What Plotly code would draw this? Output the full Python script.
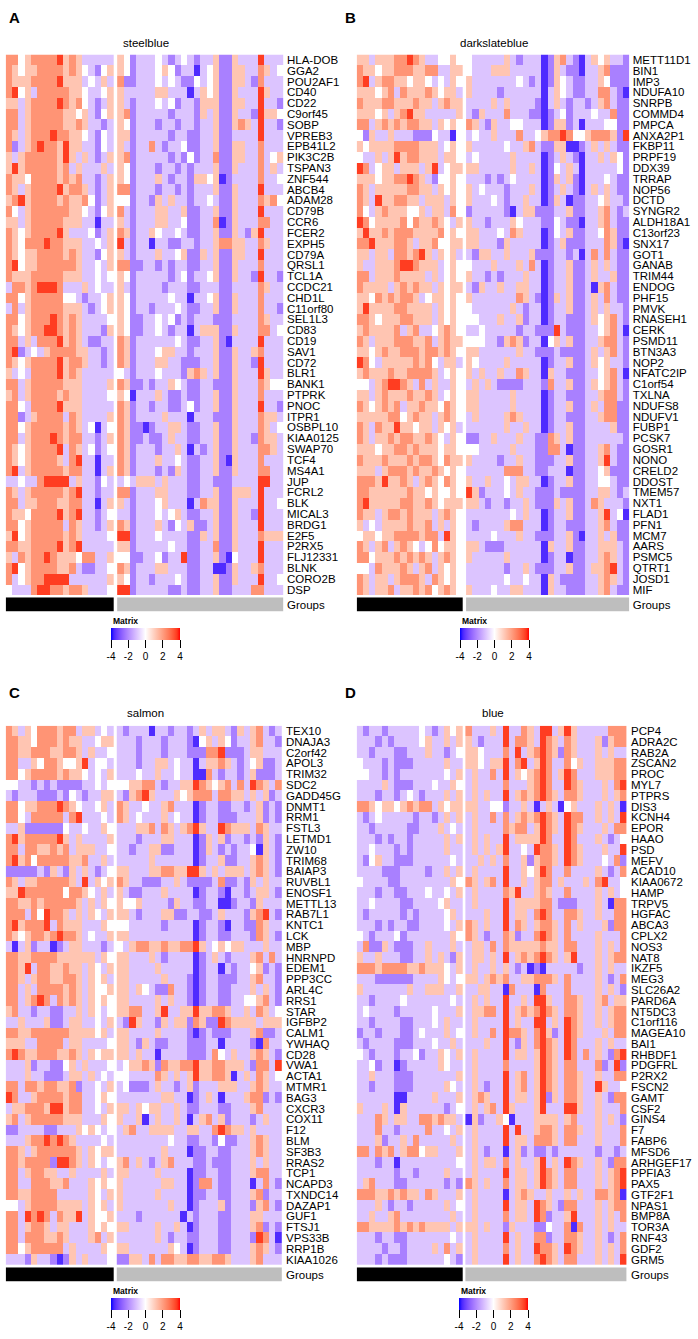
import plotly.graph_objects as go

# ---------------- data ----------------
# cell codes: B strong blue, b blue, l light blue, w white, p light red, r red, R strong red
LEVELS = {"B": -3.6, "b": -2.2, "l": -1.0, "w": 0.0, "p": 1.2, "r": 2.2, "R": 3.6}
N_GROUP1 = 17
N_GROUP2 = 26
COLORBAR_TICKS = [-4, -2, 0, 2, 4]
PANEL_LETTERS = ["A", "B", "C", "D"]
PANEL_TITLES = ["steelblue", "darkslateblue", "salmon", "blue"]

steelblue_genes = ["HLA-DOB", "GGA2", "POU2AF1", "CD40", "CD22", "C9orf45", "SOBP", "VPREB3", "EPB41L2", "PIK3C2B",
                   "TSPAN3", "ZNF544", "ABCB4", "ADAM28", "CD79B", "CCR6", "FCER2", "EXPH5", "CD79A", "QRSL1",
                   "TCL1A", "CCDC21", "CHD1L", "C11orf80", "SEL1L3", "CD83", "CD19", "SAV1", "CD72", "BLR1",
                   "BANK1", "PTPRK", "PNOC", "ITPR1", "OSBPL10", "KIAA0125", "SWAP70", "TCF4", "MS4A1", "JUP",
                   "FCRL2", "BLK", "MICAL3", "BRDG1", "E2F5", "P2RX5", "FLJ12331", "BLNK", "CORO2B", "DSP"]
steelblue_rows = [
    ("rrwpr rrrRp rplll ll", "pwbll lwlbl wlbll pbbpl llRll l"),
    ("rpwpp rrrrp rpwlb wp", "pwbll lwpwb llBlw pbbpp llrpl w"),
    ("rpppr rrrRp pplwl pl", "rbbll lwlwl bbwlw pbbpp lbrll l"),
    ("rRwpl rrrrr ppwll wp", "pllll lppll lBlpw pbbpl llRpl l"),
    ("pplpr rrrRr prwlb lp", "plbll lwlwb llbpp pbbpp llRll b"),
    ("rrlpr rrrrp pwplb wp", "prbll lllbl llbpl pbbpl lbRpp w"),
    ("rrlpr rrrrp prpll bl", "pwbll lbllb llbll pbbpr plRll b"),
    ("rplpr rrRrr ppwlb wl", "ppbll lllbl lbbll pbbll llRll l"),
    ("rblpr RrrpR ppllb wl", "plbll rlbll wbbll pbbpp llrll l"),
    ("plprr rrrpR plplb lp", "prbll lllbl bwbll rbbpp llrlw p"),
    ("pRprr rrrpr lplll pl", "pwbll lbllb lblll pbbpl llrlp l"),
    ("rppwr rrrpr prllb lp", "pwbll lplbl lbppw pBbll llrll w"),
    ("rplpr rrrRp rrplb lp", "rrbll lbllb lblll pbbpl llRll l"),
    ("prRpr rrrpr pprwb lp", "wwbll bplpl lbllw lbbpl llrpr w"),
    ("rwlpr rrrrr ppwlb wp", "rlbll lppll pbbll pbbpl llRll l"),
    ("pplpr rrrrp ppllB ll", "plbll lppll wbbll rBbpl llrrl l"),
    ("rpwpr rrrRp lllwb lp", "rpbll pwllw lbbll pbbpl bpRll l"),
    ("rpwrr rRrrp ppllw lp", "Rlbll Bllbb llbll prrpp llrpl l"),
    ("rpwpp rrrrp rpllb wp", "plbll lpllw pbbpl pbbpp llRll l"),
    ("rRwpp rrrrr rpllw lp", "rrbbl lblbl lbbll pbbpl llrll l"),
    ("rpppr rrrrp ppllw lw", "pwbll lllbl wbllw pbbpl lbRll b"),
    ("lrrpr RRRrl llplw ll", "plbll llbll lbbll lbbll llrpl l"),
    ("rrwpr rrrrw wlbll wp", "pwbll lllwl lBllw pbbpl llrll l"),
    ("lrlpr rrrrp pplbl wp", "pwbll blllw lbbll pbbpl llrll b"),
    ("rrwpr rrRrp rplll lw", "pwbbl lwlwb lblll bbbll llrpl l"),
    ("rpwpr rRRrp rplll bp", "pwbbl lwlbl lBlpp pbbpl llrrl w"),
    ("rrlpl rrrRp rplbb ll", "rpbll llllw lbbll pbBll llRll l"),
    ("rRblw lprrr rppll bl", "rpbll lwppl lblll pbbpl lprll l"),
    ("rpwpr rrrRp rrpll bl", "rpbll lppll bbbll pbbpl lbRll l"),
    ("plwlr rrrRp rplll ll", "wlbll lwlll bprpl pbbpl llRpl l"),
    ("rrlpr rrrrp pplll lp", "rpbbl bllpw lbbll bbbpl llrpw w"),
    ("prlpr rrrpr pplll lw", "pwBll lplbb lbbll pbbpl llrll l"),
    ("rrwlr rrrRp pplll ll", "rpbll bllbb lwbll pbbpl llRll b"),
    ("rrblp rrrrl rplll lp", "rpbll llpll lBlll bbbpl llrpp l"),
    ("rrwpr rrrrp rplwB lw", "rpbbB bllpp lbbll pbbpl llrpl w"),
    ("rrlpr rrRrp rrllb lp", "rpbbl bblpl lbbll pbbpl lbrpp l"),
    ("rpwpr rrrRl rplwb lw", "rpbll lbllp lBlbl pbbpl llrrp l"),
    ("rpwpr rrrpl rRllB ll", "rpbll lpllw lbbll pbBpl llrll l"),
    ("rRlpr rrrrp rrllB lp", "rpbll lblbp lbbll pbbpl llrrl l"),
    ("llwll rRRRR lpllb wl", "lwlpp plpll lbbll bbbll llRRl l"),
    ("rplpr rrrrp rRllb ll", "rrbll lppll lbbll pbbpp plRll l"),
    ("rrlpp rrrpp rrllB lp", "plbll lwpll lBlrp pbbpl llRll w"),
    ("rppwr rrrRp rRllb lw", "llbll lwlwp lbbll pbbpl lbRll l"),
    ("rrwpr rrrrl rpllb lp", "rpbll lplbw lpbbl pbbpl llRll l"),
    ("pRwpr rrrrp rplll lw", "RRbll lwlll lbbpl pbbpl llrpp p"),
    ("rrppr rrrRp rRlll ll", "ppbll lllwl lbbll rbbpl llRll l"),
    ("plrpr rRrpp pwrrl lp", "wwbbl lwbll Rbbll pbBwl llRll l"),
    ("rRwpr rrrpp rlbbl lw", "rpbll lppll lbbll BBbpl lprll l"),
    ("rlwpr rRRRR lllll lp", "pwbll blllw lbbll pbbpl llRll w"),
    ("wlllr RRrrp rrpll lw", "RRbll lllbb lbbll pbbll lrrll l"),
]

darkslateblue_genes = ["METT11D1", "BIN1", "IMP3", "NDUFA10", "SNRPB", "COMMD4", "PMPCA", "ANXA2P1", "FKBP11", "PRPF19",
                       "DDX39", "TRRAP", "NOP56", "DCTD", "SYNGR2", "ALDH18A1", "C13orf23", "SNX17", "GOT1", "GANAB",
                       "TRIM44", "ENDOG", "PHF15", "PMVK", "RNASEH1", "CERK", "PSMD11", "BTN3A3", "NOP2", "NFATC2IP",
                       "C1orf54", "TXLNA", "NDUFS8", "NDUFV1", "FUBP1", "PCSK7", "GOSR1", "NONO", "CRELD2", "DDOST",
                       "TMEM57", "NXT1", "FLAD1", "PFN1", "MCM7", "AARS", "PSMC5", "QTRT1", "JOSD1", "MIF"]
darkslateblue_rows = [
    ("pplpp prrRr pllww pw", "wllll lplbl llBbp rlbBl pwpll b"),
    ("rppwp prrrp prrll pp", "wlllp pplll llBbp lbbBl lprbb b"),
    ("rRlpr rppwp pwlwl pw", "pllll lllwl blBbp wlbbl lpwbb b"),
    ("pppwp rlrpp prpwp pl", "pllll bllll llBlp wlbbl lrrlb B"),
    ("rpppr rpppr pplpr pp", "llllp lplll lbBlp lbllb lprlb b"),
    ("pppwp lprRp pllll lp", "lbpll lrlll bbBbl wblll wllrb b"),
    ("rrlpr prprr pplpw pw", "rplbp llwwl llBbp pblBl llwwb b"),
    ("wbpll plllb bbwll Bw", "lwllp lllrl lwprr Rrwwp rrrpb R"),
    ("pwppp prrrr ppplw pw", "pllll lwllp rlbbp pBBbl plplb b"),
    ("wllpl pRprr ppplp pw", "lwlll llpll llBbl plbBl lplpw b"),
    ("Rrlwp plppp lpRlw pp", "pplll llpll plBbw lplBl llllw b"),
    ("pppwp prrRr plbww pw", "lllbl blwll llBbp lpbBl llwlb b"),
    ("rplpp ppprr pplpw pw", "plwll lblll plBbl plbBl plplb b"),
    ("rplRp prrpp lpppl pw", "plllw lbllp llBbp lBbbl lwpll b"),
    ("rwlpr pppww plppl rw", "bllll lbBlp pbbbl lpbbl lprlb l"),
    ("Rrwpp pprwr pprpw lp", "pllbl llpwl llbbw lbbBl lprlb b"),
    ("pRppr prrrp ppprw pw", "pplll wlrpl llBbw lpbbl lwrpb b"),
    ("rrRpp prrpl pprww pp", "pplll bplll llBbl pbbbl llrpb B"),
    ("pplpp lrrpr Rplpw pl", "lbppl lplll pbbbl lblBl rlrlb b"),
    ("pllpp prRRr ppplw pw", "wlllp lllpl rlBbl lpbbl plplb b"),
    ("rrlpp prppp plplw pw", "pllbl blllp llBbl lpbbl pllpb b"),
    ("rpppp lprpr pplpw pp", "lbpll pllpp llBbl lpbbl Bprlb b"),
    ("ppwrp rprrp lwppw pw", "pllll lllrp lbBbp lpbbl plrlb b"),
    ("pRppp prrpp pplpw pw", "wllll llplb llBbl lpbbl plpll b"),
    ("rrpwp pprrp pplpw pw", "wwlll pllpb llBbl lbbbl pwprl b"),
    ("prppp prlpr llwpr pw", "llwll lllbl lbbbR lbbbl lwprl B"),
    ("rplpp prrrp prlpr pp", "wwwll bprpb llBwp lpbbl lprrl b"),
    ("ppwpr pprrr prrpr pw", "pplll lllpl lbbbl bbbbl plprl b"),
    ("Rrwlp ppppr prwlp pl", "pwlll lplll llBbl lpbbl pwpll b"),
    ("prppp rpprr rrplw pw", "plpll pllrp llBpl lbbbl lwprl B"),
    ("wwlpr RRrpl rlpll pw", "lplpl bbbbl llbrl lpbbl pwprl b"),
    ("pplpr ppprp prplw pw", "pplll llpll llBbl lbbbl lprrl b"),
    ("rpwpr prlpp rppwr pw", "pplll llpll llBbl lpbbl plrrb b"),
    ("ppppp rrwpr pplpr pw", "lplll lprpl llBbl lbbbl lprrb b"),
    ("rplrp pRppw pplpw pl", "lllll lpllp llBbl lpbbl lllpb b"),
    ("rplpp rprrp prpwl pw", "bbllp lllpl lbbrp lpbbl lllll b"),
    ("pppwp prrpr pppwp pw", "wwlll llpll lbbrr lBbbl lprlb b"),
    ("rpppr ppprp rrpwr pp", "pllll bllpl lbbbl lpbbl lpRlb b"),
    ("ppplp rrrpr pprpw pw", "lllll lrrrl lbbll lBbbl lwpbb b"),
    ("rrrpR pprpl prpwr pw", "pllpl lwlpp llBbl lpbbl lwwlb b"),
    ("rrppp ppprp pwpww pw", "Rpbll lwlpl lbbbl bbbbl lpplb l"),
    ("rRppp pprrp prpwp pp", "pplbl lbllp lbbbp lpbbl rplll b"),
    ("rpplp rrprp pplpr pw", "lllll llwlp llBbl lpbbl lpRlw B"),
    ("plwlp ppprp prlpl pw", "lblll lprrl llBbl lbbbl lprlb b"),
    ("wppwp prrrr prrlR pw", "llllw lllpl lbbbl lpbBl lplpb b"),
    ("rplpr lprpw lwrwp pw", "pplbb bllll llBpl lpbbl lpppl b"),
    ("rrwpp prprp rplpr pw", "pllll lplll llBbl lBbbl lprpl b"),
    ("wwlrp pprpl prlpw pw", "lllll lbllp lbbbl lpbbl pprRl b"),
    ("rplpp lprrr plrpw pw", "lllll lwllw llBpl bbbbl lprpl b"),
    ("rplpp rlppr prwpr pw", "plllw llppl llBpl lbbbl lprlb b"),
]

salmon_genes = ["TEX10", "DNAJA3", "C2orf42", "APOL3", "TRIM32", "SDC2", "GADD45G", "DNMT1", "RRM1", "FSTL3",
                "LETMD1", "ZW10", "TRIM68", "BAIAP3", "RUVBL1", "ENOSF1", "METTL13", "RAB7L1", "KNTC1", "LCK",
                "MBP", "HNRNPD", "EDEM1", "PPP3CC", "ARL4C", "RRS1", "STAR", "IGFBP2", "CALM1", "YWHAQ",
                "CD28", "VWA1", "ACTA1", "MTMR1", "BAG3", "CXCR3", "COX11", "F12", "BLM", "SF3B3",
                "RRAS2", "TCP1", "NCAPD3", "TXNDC14", "DAZAP1", "GUF1", "FTSJ1", "VPS33B", "RRP1B", "KIAA1026"]
salmon_rows = [
    ("rplpw rrrpr rlppl wl", "lblll Bllbl lblpl pplbp lprlb l"),
    ("rrppw rrrpr ppllw pp", "lllbl llbll lbBwp lpwbl lprll b"),
    ("rrppr rrppr rplpl lw", "lllbl llbll lbbbr rRbbb lppll l"),
    ("rrllp wrrpw wpRlw wl", "lllbl lpplw llBlp prplb lwpbb l"),
    ("rrwpr rrrpr ppwlw lp", "lllwl lpllw llBBr lbllb lpbbb l"),
    ("wwllb lblbb bbllw lw", "wwppr rlbll ppRrp wprlr lRrpl r"),
    ("lblll bbblb wlbll pp", "lbprR plllp wprrr lrrpp lplpb l"),
    ("rrwpp rrrRr pwllw pl", "rpllw llprl llBbl lbbll blpbl b"),
    ("rrwlr rrrrl rRlll wl", "rplwl llplw llBbl lbbbl llpbl b"),
    ("llpbb bbbbw llwll pw", "lllpp rlrpl prRpl lRrpp plrpl l"),
    ("rRprr rrrRp lplll lp", "lllbl llppl llBbp lpbll blbpl b"),
    ("rrlrr pprpr lpppl lw", "llbll ppbbl llBbp lblbl lwBpl b"),
    ("rRprw rrrrr pprll pl", "lllll pllll llBbl lpbbl lprpl b"),
    ("bbbbb lbplb plplb lw", "pplll pprrp pRRpl plppp lprpl b"),
    ("rplpp rrrrr plRlp wp", "rpllb bbllp lbbbb lrbbl bplpl l"),
    ("ppRrr rrrrw rrpwl pl", "plbbl llpll llBbl lbBll blppl b"),
    ("rrppr prrrr rplpl pw", "pwwpl lllbp llbbl lBBbl lbpll l"),
    ("rrrlr wRrrp lplpw lp", "pplbl llppb bllbb lplll bprRl b"),
    ("rRprr rRlrp pplll pw", "wwlll llbll llBbl lbBll bbrpl l"),
    ("rpwpr rprRr rplwl lp", "pplll lllll llBbl lbbll lbrpl b"),
    ("lBlpb llBbl pplll bl", "wlprr pprpp rrRpl wpwpp lllpl l"),
    ("rrppr rrrpp ppppl pw", "pplll plbll llBbl plbll lprlr l"),
    ("rrpRl rrppr pplpw lp", "pplll lplll llBbl lBlbl lwpbl b"),
    ("rrplp rrppr rplpw pl", "pplll llpll lbBbl lbbbl lprll b"),
    ("rrlpl rrrrp rplpw wp", "pplpw lbbrl lbBbl lbbll lplpl b"),
    ("rrlpr Rrlrp rplpw pw", "pplll lplpl lbBbl lbbll wwprl b"),
    ("prllb llbbl lplpw lw", "pprrl lpRll ppRpp rrpll plrpl w"),
    ("llpll lpbbl ppllw lp", "lbRpl lbplp pbrpb bRrpp pplpp p"),
    ("rrppr rrrrr ppppw pl", "pplll lplll lbBbl bbbll lprbb l"),
    ("pppll rrrrl pplll lw", "pplbp lbbll lbbbl lBlll lbBrl l"),
    ("rRrpp rrrpp rplpw pp", "pplpl lBlll lbbbl rwlpl lprpl b"),
    ("lllpb llbbw plpll lw", "lwppr pbrpp rrRpp rrppp lbrrl R"),
    ("lllpl lbbbl pplpl wl", "wwlll lrplp lpRpp rrpBl plrpl w"),
    ("rrlrr prrpp rbllw lp", "lwbbb lpllb lpbll lpppl lprpl l"),
    ("Rrllp rrrrp rrllw pw", "lllll llppl lBblp lBlll prrbl b"),
    ("lpprr rpRRp rrllw lp", "pplpw ppllp lbbll lbbll lprll l"),
    ("prlpr rrrrp pplll pw", "pllpB lpllp lBlpr lpbll lblpl l"),
    ("bblll lbbll lpwpw lw", "lprll ppppl lppll rRrpp lplll l"),
    ("lllpr rRrRr pllll wl", "lllll lllwl lbbll bwbbl lprpl l"),
    ("rrplp rrrrr rplpw pp", "lllll llpll lBbbl lbbll lprpl l"),
    ("rrprr rrbRR rplpw lw", "prlpl blprl llbbl bbbll lplpl l"),
    ("rrlpr rppll pllll pl", "pplll lplll lBbbl lbbll lprrl l"),
    ("rrllr rrppr lllpw pw", "pllll llppl lBbrr lbbll lBlrl b"),
    ("rrppr rrrll lllpw lp", "pllll lplll lBbbl lbbll lprbl l"),
    ("wwlpr rrrpp pplpw pl", "pllll lllpl lBbll lpbll lbprl b"),
    ("rrlRr Rrlrp pRlpw wp", "lllbl lllll Blbll lbbll lppll l"),
    ("rrlpr rplpp lllpw pw", "pplll lpllp lBbll lbbll lprbl b"),
    ("rrlrr rpprp lllpr lp", "lllll lplbl lbbll lbbll lbRrl B"),
    ("rrwpr rrrrl pllll pw", "pplll lllpw lBbll lbbll lprpl b"),
    ("lllbp llbBb plpll lw", "bbppl rlrrp prrpp rrpll lprll l"),
]

blue_genes = ["PCP4", "ADRA2C", "RAB2A", "ZSCAN2", "PROC", "MYL7", "PTPRS", "DIS3", "KCNH4", "EPOR",
              "HAAO", "PSD", "MEFV", "ACAD10", "KIAA0672", "HAMP", "TRPV5", "HGFAC", "ABCA3", "CPLX2",
              "NOS3", "NAT8", "IKZF5", "MEG3", "SLC26A2", "PARD6A", "NT5DC3", "C1orf116", "MAGEA10", "BAI1",
              "RHBDF1", "PDGFRL", "P2RX2", "FSCN2", "GAMT", "CSF2", "GINS4", "F7", "FABP6", "MFSD6",
              "ARHGEF17", "PPFIA3", "PAX5", "GTF2F1", "NPAS1", "BMP8A", "TOR3A", "RNF43", "GDF2", "GRM5"]
blue_rows = [
    ("lbllb lllll wlblp wp", "rlllp lRllr plRRl pRpll lllrr r"),
    ("lllbl bllll wpllp lp", "plbll lRlrr plRrp lrpll lpbpr r"),
    ("llbll lbbll lpllb lw", "ppwll lrlRl prRrp brpll lplpl l"),
    ("wlllb lbbbl llllp ll", "ppwlp pRlrR lpRrl lrwpl lpppr r"),
    ("wwllb lblll llllw lp", "lpllr lRlpw prRrl pRrll lpppr r"),
    ("llllp lbbbl llwll pw", "lplll lrlll prRrl lRrpl llplr R"),
    ("lllbl lblwl blllp lp", "lplpl lRlpr prRrp lrrpl llplp r"),
    ("rrpwp pwprp rrlpw pp", "ppllw wbllp lBlpl Bwpll lplpl B"),
    ("lblwl llllb llblp lp", "lpllr lrlpr prRrp lRrrl lplpl R"),
    ("llbll lllbb lllpl wl", "lplll lrprr lpRrp lRrpl llplr r"),
    ("lllbl bllbl llllp lp", "lplpl lRlpp ppRrl lRrll lplbl w"),
    ("llwll lblbl llllp ll", "lplpl pRllw lRrrp lRrpl llpll R"),
    ("lbwpl lbbbl lllll wl", "llplp lrllp bprrp lRrpl llwlr b"),
    ("llllb bblll lbllp lp", "lplll lRllp wpRrl lrlll lplbl r"),
    ("wllll bblll lllll pw", "rplpr lRllp lprrl plllp lrRll w"),
    ("lllbl lbbll lwllw lp", "lplll lrpRl lprpl lrlll lplpl w"),
    ("llwll llbbl lllwp ll", "lplll lRlpp pprrl bbbll lplBr r"),
    ("lblll llblb llllw pl", "lllpl lRlpp lrRrl lrrpl lpllr r"),
    ("lllbl bllbb llllw lp", "rplpl lRlrp lprrp lrlpl llpbr r"),
    ("wlbll lwbll lllll pw", "rplbl lrpbl lrRrp lrlll lplll r"),
    ("lrbbp lbbbl lplll pl", "lpplr lrppp pprpp lrrll lplpl r"),
    ("pllpl llbbl lplpl bp", "lpplp lRlpr prRrp lpRll lplpr r"),
    ("rrrpr rrrpp rpppw lp", "lpllp lplbl BbBll lllbl lplpl l"),
    ("lllbb bbbbl lllpw lw", "pplpr prllp prrrp lrlll lplbl r"),
    ("pllll lllpl lpppl lp", "llppl lBrll lBrll lrlll lplpl b"),
    ("llbll llwll lllll wl", "lplpl lRllp lRRpl lrrpl lprlp p"),
    ("lwlll lblll llwll lp", "lpprr lRlpr prRrp lrrpl lplpr r"),
    ("llbll llbbl llwlp ll", "lplll lRlpl lRRlp lRrpl lplpr r"),
    ("bllbl llbbl wlllp lw", "lpllr lRrrp lrRpb lRrpl llplr r"),
    ("lblll lbbbl llwll pl", "lllpl lRlbp lrRrp lRrll lplpl l"),
    ("wlbll lbllw bllpw lp", "lplll lRlpp lpRrp lRrlr lplbr R"),
    ("llwbl lBbll lllpw ll", "lplll lrlll lpRrp lrrll lrblR b"),
    ("llpll lbbbl lllll lp", "lplll lRlpr lpRrp lrrpl lpllr r"),
    ("llbll lbbbl llllp wl", "lplbl lRlpr lpRrp lrrpl lRpll w"),
    ("lllll lBBll llpll lp", "lprpl lRlpp lpRbp lrrpl lplbr r"),
    ("plllp lBpll llllb lw", "lplpr lRpll lpRll lRRpl lplll r"),
    ("lllrp lppll rrprp pl", "Bpbll pwBll lpppp lprll lplpl b"),
    ("lllrl lblll lrllw lp", "lplll lRlRl lprrp lrrpl lplll r"),
    ("lllpb llplr lllll pl", "lplll lRlpp lrrrp lrrll lplll r"),
    ("rrlrp rlprr wppll lp", "lplbl lBlpb lbblb lllll lbllb l"),
    ("lllbl lBlll lllll lw", "lplpp lrlpl lpRlp lRrpl lplbr r"),
    ("lllll lbllb llllp ll", "lplll lRlpp lpRrp lrrll lplpr R"),
    ("lprll lbbll llllb lb", "rplpl lrlpp lpRrp lrrll lplpr R"),
    ("rrrpp rprpp lrpll lp", "lplll lBlpr pllpl lplpl lrrpr B"),
    ("lllpl bllbl llllp lw", "lplll lRlpp lRrpl brrll lplpr r"),
    ("llpll prlll lllll pl", "lplll lrlpp lRrbl lpRll lplpl r"),
    ("rrppp prprp rpppp lp", "pplpl lbpll lbbwl lrBrl lplpl l"),
    ("lllbl lbbll lllll wl", "lplll lRlpl lrrbl lrrpl lplbl r"),
    ("llllb llbll llplr lp", "lplll lrlpl lRrrp lRrpl lplpl r"),
    ("lllbl bbbll llllw lb", "lplll lRlpl lrRrp lrrll lplpl R"),
]

PANEL_GENES = [steelblue_genes, darkslateblue_genes, salmon_genes, blue_genes]
PANEL_ROWS = [steelblue_rows, darkslateblue_rows, salmon_rows, blue_rows]


# ---------------- helpers ----------------
def decode(rows):
    left, right = [], []
    for lstr, rstr in rows:
        lv = [LEVELS[c] for c in lstr.replace(" ", "")]
        rv = [LEVELS[c] for c in rstr.replace(" ", "")]
        left.append((lv + [0.0] * N_GROUP1)[:N_GROUP1])
        right.append((rv + [0.0] * N_GROUP2)[:N_GROUP2])
    return left, right


def _to_lin(c):
    c = c / 255.0
    return c / 12.92 if c <= 0.04045 else ((c + 0.055) / 1.055) ** 2.4


def _to_srgb(c):
    c = max(0.0, min(1.0, c))
    v = 12.92 * c if c <= 0.0031308 else 1.055 * c ** (1 / 2.4) - 0.055
    return int(round(max(0.0, min(1.0, v)) * 255))


def rgb_to_lab(rgb):
    r, g, b = [_to_lin(c) for c in rgb]
    X = 0.4124 * r + 0.3576 * g + 0.1805 * b
    Y = 0.2126 * r + 0.7152 * g + 0.0722 * b
    Z = 0.0193 * r + 0.1192 * g + 0.9505 * b

    def f(t):
        return t ** (1 / 3) if t > 0.008856 else 7.787 * t + 16 / 116

    fx, fy, fz = f(X / 0.95047), f(Y), f(Z / 1.08883)
    return (116 * fy - 16, 500 * (fx - fy), 200 * (fy - fz))


def lab_to_rgb(lab):
    L, a, b = lab
    fy = (L + 16) / 116
    fx = fy + a / 500
    fz = fy - b / 200

    def finv(t):
        return t ** 3 if t ** 3 > 0.008856 else (t - 16 / 116) / 7.787

    X, Y, Z = 0.95047 * finv(fx), finv(fy), 1.08883 * finv(fz)
    r = 3.2406 * X - 1.5372 * Y - 0.4986 * Z
    g = -0.9689 * X + 1.8758 * Y + 0.0415 * Z
    bb = 0.0557 * X - 0.2040 * Y + 1.0570 * Z
    return "rgb(%d,%d,%d)" % (_to_srgb(r), _to_srgb(g), _to_srgb(bb))


def build_colorscale(n=12):
    blue, white, red = rgb_to_lab((0, 0, 255)), rgb_to_lab((255, 255, 255)), rgb_to_lab((255, 0, 0))
    scale = []
    for i in range(n + 1):
        t = i / n
        lab = tuple(blue[k] + (white[k] - blue[k]) * t for k in range(3))
        scale.append([0.5 * t, lab_to_rgb(lab)])
    for i in range(1, n + 1):
        t = i / n
        lab = tuple(white[k] + (red[k] - white[k]) * t for k in range(3))
        scale.append([0.5 + 0.5 * t, lab_to_rgb(lab)])
    return scale


COLORSCALE = build_colorscale()
FONT = "Liberation Sans, Arial, Helvetica, sans-serif"
W, H = 698, 1339


def px(x):
    return x / W


def py(y):
    return 1 - y / H


# panel geometry in pixels: (x0, x1, y_top, y_bottom, groups_top, groups_bottom, cbar_x, cbar_top, title_y, letter_x, letter_y)
GEOM = [
    (5.7, 286.0, 54.5, 595.0, 597.3, 611.7, 111.0, 628.0, 43.0, 14.0, 18.0),
    (356.7, 631.7, 54.5, 595.0, 597.3, 611.7, 460.0, 628.0, 43.0, 350.0, 18.0),
    (5.7, 285.0, 725.7, 1265.0, 1267.3, 1281.7, 111.0, 1298.0, 713.0, 14.0, 692.0),
    (356.7, 630.0, 725.7, 1265.0, 1267.3, 1281.7, 459.0, 1298.0, 713.0, 350.0, 692.0),
]

fig = go.Figure()
layout = dict(
    template="none",
    width=W, height=H, margin=dict(l=0, r=0, t=0, b=0, pad=0),
    paper_bgcolor="white", plot_bgcolor="white", showlegend=False,
    font=dict(family=FONT, color="black", size=11),
)
annotations = []

x_left = list(range(N_GROUP1))
x_right = [N_GROUP1 + 0.5 + j for j in range(N_GROUP2)]

for k in range(4):
    x0, x1, yt, yb, gt, gb, cbx, cbt, ty, lx, ly = GEOM[k]
    genes = PANEL_GENES[k]
    left, right = decode(PANEL_ROWS[k])
    xa = "x" if k == 0 else "x%d" % (k + 1)
    ya_main = "y" if k == 0 else "y%d" % (2 * k + 1)
    ya_grp = "y%d" % (2 * k + 2)
    ca = "coloraxis" if k == 0 else "coloraxis%d" % (k + 1)
    yrows = list(range(len(genes)))

    fig.add_trace(go.Heatmap(z=left, x=x_left, y=yrows, coloraxis=ca, xaxis=xa, yaxis=ya_main,
                             hoverinfo="skip"))
    fig.add_trace(go.Heatmap(z=right, x=x_right, y=yrows, coloraxis=ca, xaxis=xa, yaxis=ya_main,
                             hoverinfo="skip"))
    fig.add_trace(go.Heatmap(z=[[0] * N_GROUP1], x=x_left, y=[0], xaxis=xa, yaxis=ya_grp,
                             colorscale=[[0, "black"], [1, "#BEBEBE"]], zmin=0, zmax=1,
                             showscale=False, hoverinfo="skip"))
    fig.add_trace(go.Heatmap(z=[[1] * N_GROUP2], x=x_right, y=[0], xaxis=xa, yaxis=ya_grp,
                             colorscale=[[0, "black"], [1, "#BEBEBE"]], zmin=0, zmax=1,
                             showscale=False, hoverinfo="skip"))

    xkey = "xaxis" if k == 0 else "xaxis%d" % (k + 1)
    ykey_main = "yaxis" if k == 0 else "yaxis%d" % (2 * k + 1)
    ykey_grp = "yaxis%d" % (2 * k + 2)
    layout[xkey] = dict(domain=[px(x0), px(x1)], range=[-0.5, N_GROUP1 + 0.5 + N_GROUP2],
                        showticklabels=False, showgrid=False, zeroline=False, ticks="", showline=False,
                        anchor=ya_main, fixedrange=True, automargin=False)
    layout[ykey_main] = dict(domain=[py(yb), py(yt)], range=[len(genes) - 0.5, -0.5],
                             tickmode="array", tickvals=yrows, ticktext=genes, side="right",
                             showgrid=False, zeroline=False, ticks="", showline=False, anchor=xa,
                             tickfont=dict(family=FONT, size=11.5, color="black"), fixedrange=True,
                             automargin=False)
    layout[ykey_grp] = dict(domain=[py(gb), py(gt)], range=[0.5, -0.5],
                            tickmode="array", tickvals=[0], ticktext=["Groups"], side="right",
                            showgrid=False, zeroline=False, ticks="", showline=False, anchor=xa,
                            tickfont=dict(family=FONT, size=11.5, color="black"), fixedrange=True,
                            automargin=False)
    layout[ca] = dict(
        colorscale=COLORSCALE, cmin=-4, cmax=4,
        colorbar=dict(orientation="h", x=px(cbx), xanchor="left", y=py(cbt), yanchor="top",
                      len=69, lenmode="pixels", thickness=12, thicknessmode="pixels",
                      tickmode="array", tickvals=COLORBAR_TICKS, ticktext=[str(v) for v in COLORBAR_TICKS],
                      ticks="outside", ticklen=8, tickwidth=1, tickcolor="black",
                      tickfont=dict(family=FONT, size=10, color="black"),
                      outlinewidth=0, xpad=0, ypad=0),
    )

    annotations.append(dict(text=PANEL_TITLES[k], x=px((x0 + x1) / 2), y=py(ty), xref="paper", yref="paper",
                            showarrow=False, xanchor="center", yanchor="middle",
                            font=dict(family=FONT, size=11.5, color="black")))
    annotations.append(dict(text="<b>%s</b>" % PANEL_LETTERS[k], x=px(lx), y=py(ly), xref="paper", yref="paper",
                            showarrow=False, xanchor="center", yanchor="middle",
                            font=dict(family=FONT, size=15, color="black")))
    annotations.append(dict(text="<b>Matrix</b>", x=px(cbx), y=py(cbt - 7), xref="paper", yref="paper",
                            showarrow=False, xanchor="left", yanchor="middle",
                            font=dict(family=FONT, size=8.5, color="black")))

layout["annotations"] = annotations
fig.update_layout(**layout)
fig.write_html("out.html", config={"displayModeBar": False},
               post_script="document.body.style.margin='0px';document.body.style.padding='0px';")
